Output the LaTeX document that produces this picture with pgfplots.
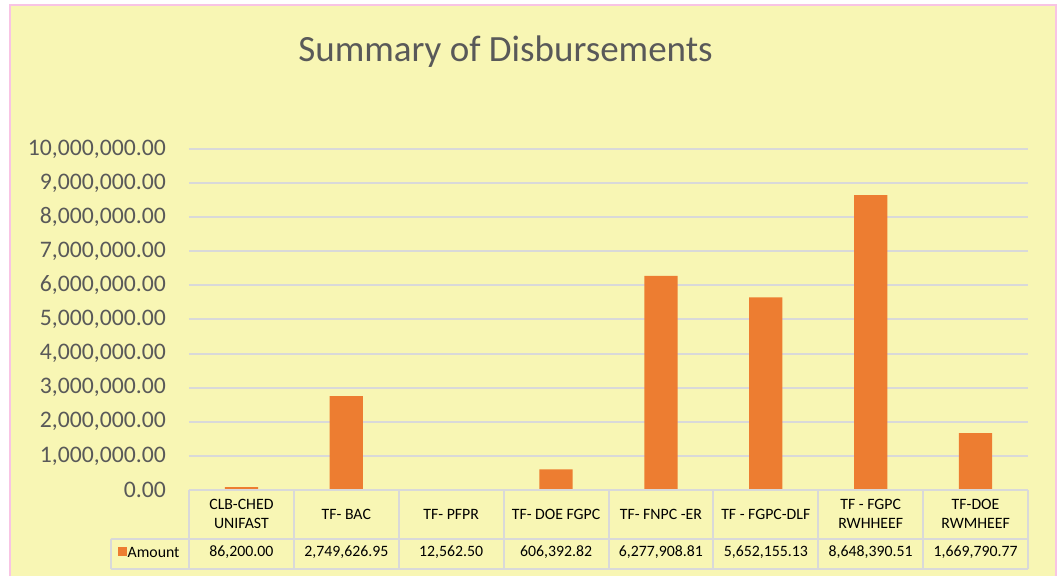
\documentclass[border=0pt]{standalone}
\usepackage{fontspec}
\setmainfont{Carlito}
\usepackage{pgfplots}
\pgfplotsset{compat=1.18}
\definecolor{bg}{RGB}{248,246,180}
\definecolor{pinkb}{RGB}{248,196,228}
\definecolor{barc}{RGB}{237,125,49}
\definecolor{gridc}{RGB}{217,217,217}
\definecolor{txtg}{RGB}{89,89,89}
\begin{document}
\begin{tikzpicture}[x=1pt,y=1pt]
\useasboundingbox (0,0) rectangle (1058,576);
\fill[white] (0,0) rectangle (1058,576);
\fill[bg] (10,0) rectangle (1056,571);
\draw[pinkb,line width=2.5pt] (10,0) -- (10,571) -- (1056,571) -- (1056,0);
\node[txtg,font=\fontsize{37}{44}\selectfont] at (505.5,524) {Summary of Disbursements};
\begin{axis}[at={(189pt,86pt)},anchor=south west,
  scale only axis, width=839pt, height=341pt,
  xmin=-0.5, xmax=7.5, ymin=0, ymax=10000000,
  ytick={0,1000000,2000000,3000000,4000000,5000000,6000000,7000000,8000000,9000000,10000000},
  xtick=\empty, scaled y ticks=false,
  axis line style={draw=none}, major tick length=0pt,
  ymajorgrids, grid style={gridc,line width=2pt},
  yticklabel style={anchor=east, inner sep=0pt, xshift=-23pt, text=txtg, font=\fontsize{23.7}{28}\selectfont},
  yticklabel={\pgfmathprintnumber[fixed,fixed zerofill,precision=2,1000 sep={,},assume math mode=true]{\tick}},
  clip=false]
\addplot[ybar, bar width=33.3pt, fill=barc, draw=none] coordinates {
(0,86200) (1,2749626.95) (2,12562.50) (3,606392.82) (4,6277908.81) (5,5652155.13) (6,8648390.51) (7,1669790.77)};
\end{axis}
% data table
\begin{scope}[gridc, line width=2pt]
\draw (189,86) -- (1028,86);
\draw (110.5,37) -- (1028,37);
\draw (110.5,7) -- (1028,7);
\draw (110.5,7) -- (110.5,37);
\foreach \i in {0,...,8} { \draw (189+104.875*\i,7) -- (189+104.875*\i,86); }
\end{scope}
\foreach \i/\h/\v in {0/{CLB-CHED\\UNIFAST}/{86,200.00}, 1/{TF- BAC}/{2,749,626.95}, 2/{TF- PFPR}/{12,562.50}, 3/{TF- DOE FGPC}/{606,392.82}, 4/{TF- FNPC -ER}/{6,277,908.81}, 5/{TF - FGPC-DLF}/{5,652,155.13}, 6/{TF - FGPC\\RWHHEEF}/{8,648,390.51}, 7/{TF-DOE\\RWMHEEF}/{1,669,790.77}} {
  \node[align=center, font=\fontsize{15.8}{19}\selectfont, text=black] at (189+104.875*\i+52.44,62) {\h};
  \node[font=\fontsize{15.8}{19}\selectfont, text=black] at (189+104.875*\i+52.44,23.5) {\v};
}
\fill[barc] (117.5,20) rectangle (126.5,29);
\node[anchor=west, inner sep=0pt, font=\fontsize{15.8}{19}\selectfont] at (127.5,23.5) {Amount};
\end{tikzpicture}
\end{document}
